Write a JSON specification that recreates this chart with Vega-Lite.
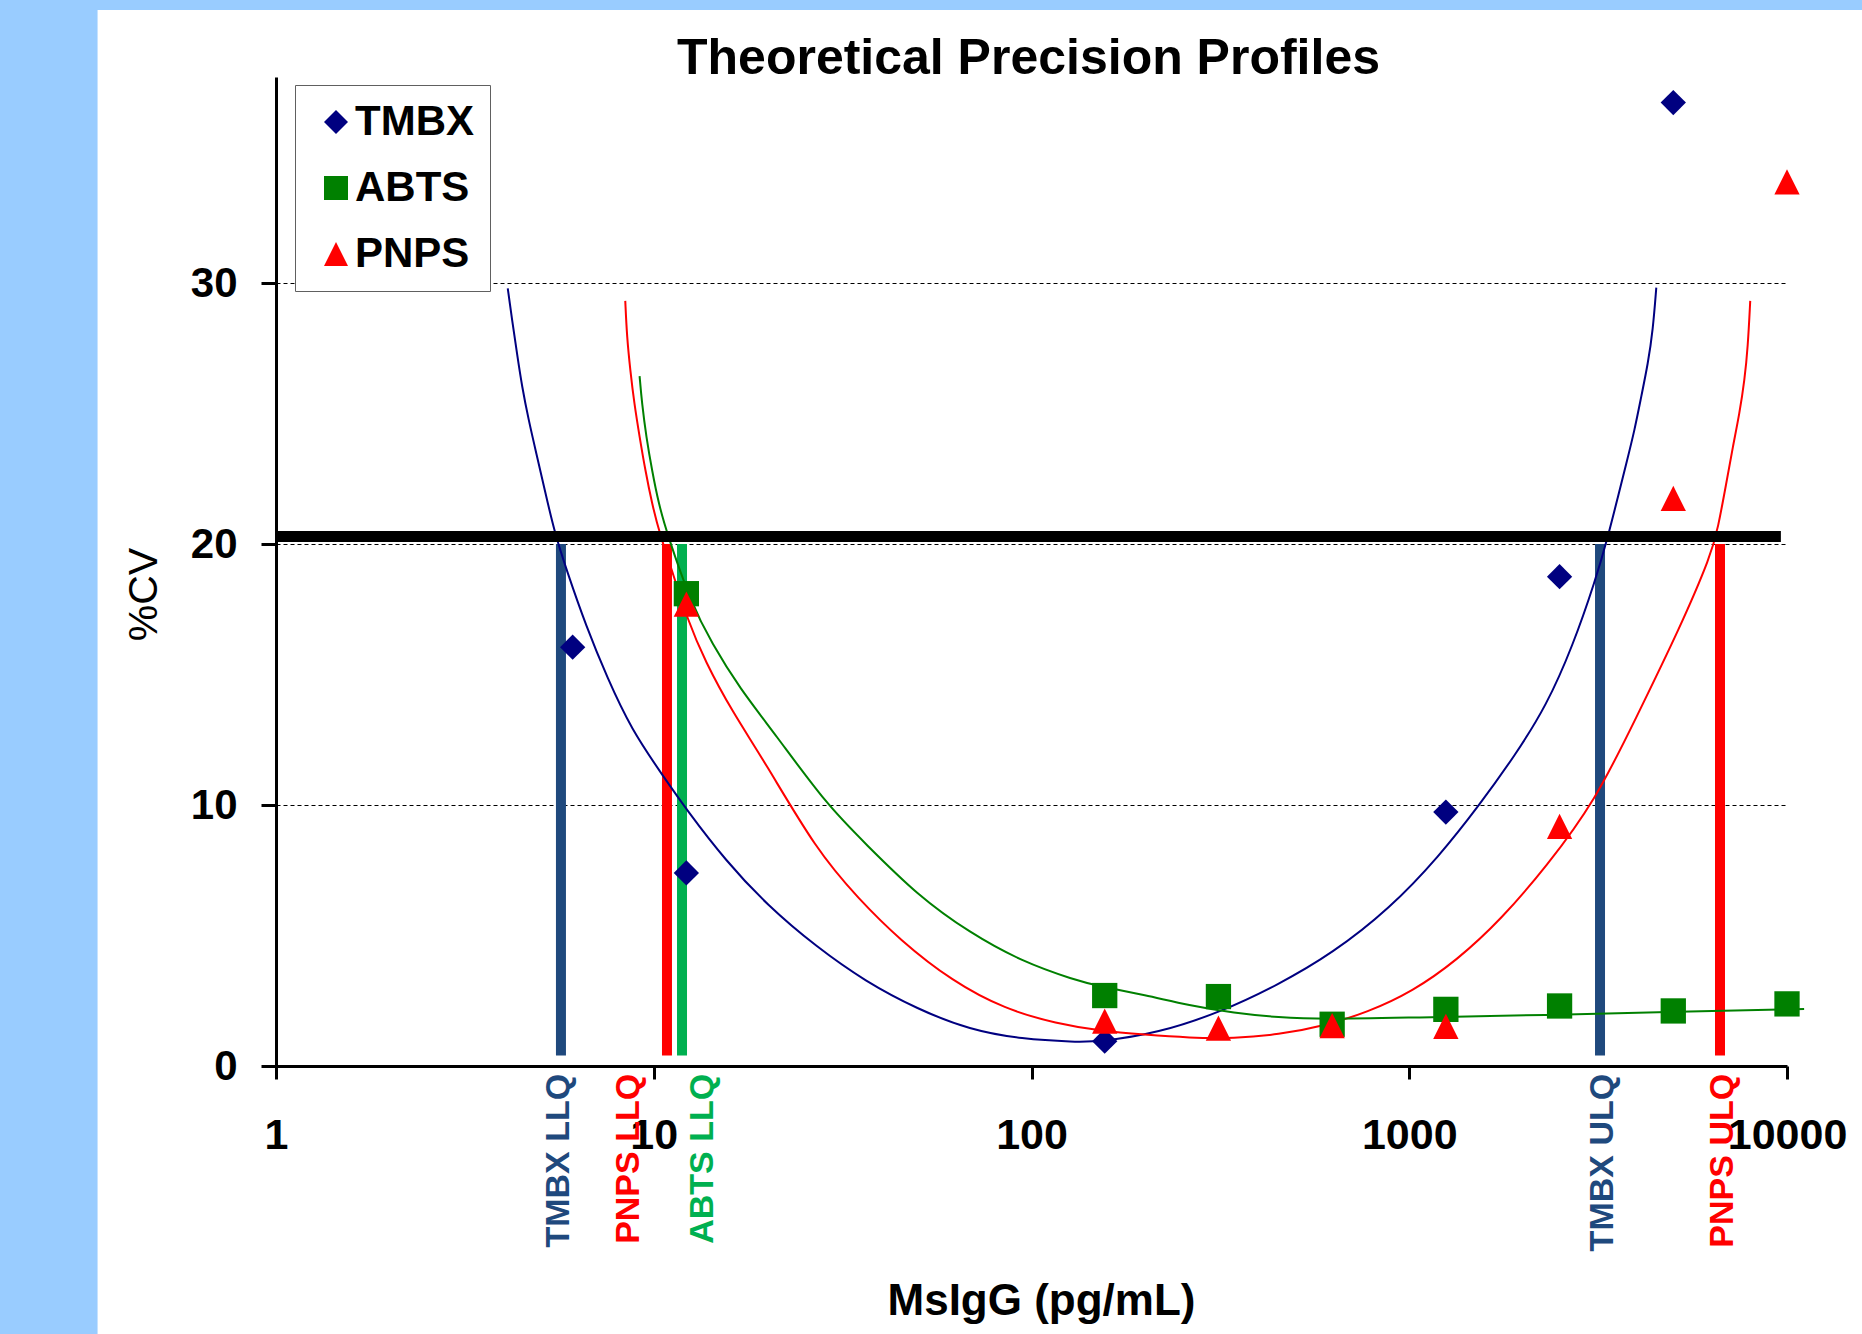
{
  "$schema": "https://vega.github.io/schema/vega-lite/v6.json",
  "width": 1511,
  "height": 989,
  "autosize": {"type": "none"},
  "padding": {"left": 276, "top": 77, "right": 75, "bottom": 268},
  "background": "white",
  "config": {"font": "Liberation Sans", "view": {"stroke": null}},
  "datasets": {
    "points": [
      {"series": "TMBX", "x": 6.1, "y": 16.05},
      {"series": "TMBX", "x": 12.2, "y": 7.4},
      {"series": "TMBX", "x": 156.25, "y": 0.95},
      {"series": "TMBX", "x": 1250, "y": 9.73},
      {"series": "TMBX", "x": 2500, "y": 18.75},
      {"series": "TMBX", "x": 5000, "y": 36.92},
      {"series": "ABTS", "x": 12.2, "y": 18.1},
      {"series": "ABTS", "x": 156.25, "y": 2.7},
      {"series": "ABTS", "x": 312.5, "y": 2.66},
      {"series": "ABTS", "x": 625, "y": 1.6},
      {"series": "ABTS", "x": 1250, "y": 2.17},
      {"series": "ABTS", "x": 2500, "y": 2.3},
      {"series": "ABTS", "x": 5000, "y": 2.11},
      {"series": "ABTS", "x": 10000, "y": 2.38},
      {"series": "PNPS", "x": 12.2, "y": 17.7},
      {"series": "PNPS", "x": 156.25, "y": 1.72},
      {"series": "PNPS", "x": 312.5, "y": 1.45},
      {"series": "PNPS", "x": 625, "y": 1.55},
      {"series": "PNPS", "x": 1250, "y": 1.52},
      {"series": "PNPS", "x": 2500, "y": 9.18},
      {"series": "PNPS", "x": 5000, "y": 21.75},
      {"series": "PNPS", "x": 10000, "y": 33.88}
    ],
    "curves": [
      {"series": "TMBX", "x": 4.107, "y": 29.8},
      {"series": "TMBX", "x": 4.217, "y": 28.58},
      {"series": "TMBX", "x": 4.345, "y": 27.31},
      {"series": "TMBX", "x": 4.48, "y": 26.03},
      {"series": "TMBX", "x": 4.665, "y": 24.75},
      {"series": "TMBX", "x": 4.889, "y": 23.47},
      {"series": "TMBX", "x": 5.142, "y": 22.1},
      {"series": "TMBX", "x": 5.456, "y": 20.47},
      {"series": "TMBX", "x": 5.888, "y": 18.97},
      {"series": "TMBX", "x": 6.622, "y": 16.85},
      {"series": "TMBX", "x": 7.534, "y": 14.87},
      {"series": "TMBX", "x": 8.73, "y": 12.89},
      {"series": "TMBX", "x": 10.52, "y": 11.17},
      {"series": "TMBX", "x": 12.27, "y": 9.78},
      {"series": "TMBX", "x": 15.52, "y": 7.86},
      {"series": "TMBX", "x": 20.0, "y": 6.15},
      {"series": "TMBX", "x": 26.98, "y": 4.56},
      {"series": "TMBX", "x": 36.31, "y": 3.24},
      {"series": "TMBX", "x": 49.89, "y": 2.18},
      {"series": "TMBX", "x": 68.71, "y": 1.38},
      {"series": "TMBX", "x": 94.41, "y": 1.03},
      {"series": "TMBX", "x": 130.0, "y": 0.92},
      {"series": "TMBX", "x": 151.7, "y": 0.93},
      {"series": "TMBX", "x": 216.3, "y": 1.26},
      {"series": "TMBX", "x": 316.2, "y": 2.06},
      {"series": "TMBX", "x": 450.8, "y": 3.12},
      {"series": "TMBX", "x": 625.2, "y": 4.31},
      {"series": "TMBX", "x": 889.2, "y": 6.04},
      {"series": "TMBX", "x": 1199, "y": 8.03},
      {"series": "TMBX", "x": 1533, "y": 10.0},
      {"series": "TMBX", "x": 1905, "y": 11.9},
      {"series": "TMBX", "x": 2307, "y": 13.8},
      {"series": "TMBX", "x": 2710, "y": 16.1},
      {"series": "TMBX", "x": 3109, "y": 18.6},
      {"series": "TMBX", "x": 3357, "y": 20.28},
      {"series": "TMBX", "x": 3568, "y": 21.81},
      {"series": "TMBX", "x": 3755, "y": 23.09},
      {"series": "TMBX", "x": 3950, "y": 24.37},
      {"series": "TMBX", "x": 4111, "y": 25.64},
      {"series": "TMBX", "x": 4285, "y": 26.92},
      {"series": "TMBX", "x": 4416, "y": 28.2},
      {"series": "TMBX", "x": 4508, "y": 29.83},
      {"series": "PNPS", "x": 8.406, "y": 29.32},
      {"series": "PNPS", "x": 8.492, "y": 27.94},
      {"series": "PNPS", "x": 8.665, "y": 26.67},
      {"series": "PNPS", "x": 8.879, "y": 25.39},
      {"series": "PNPS", "x": 9.173, "y": 24.11},
      {"series": "PNPS", "x": 9.495, "y": 22.84},
      {"series": "PNPS", "x": 9.89, "y": 21.56},
      {"series": "PNPS", "x": 10.36, "y": 20.41},
      {"series": "PNPS", "x": 11.27, "y": 18.83},
      {"series": "PNPS", "x": 12.28, "y": 17.12},
      {"series": "PNPS", "x": 13.65, "y": 15.53},
      {"series": "PNPS", "x": 16.18, "y": 13.55},
      {"series": "PNPS", "x": 19.6, "y": 11.7},
      {"series": "PNPS", "x": 26.98, "y": 8.26},
      {"series": "PNPS", "x": 34.83, "y": 6.41},
      {"series": "PNPS", "x": 44.87, "y": 4.82},
      {"series": "PNPS", "x": 61.8, "y": 3.24},
      {"series": "PNPS", "x": 84.92, "y": 2.18},
      {"series": "PNPS", "x": 116.9, "y": 1.62},
      {"series": "PNPS", "x": 151.7, "y": 1.35},
      {"series": "PNPS", "x": 199.4, "y": 1.2},
      {"series": "PNPS", "x": 261.8, "y": 1.08},
      {"series": "PNPS", "x": 343.6, "y": 1.06},
      {"series": "PNPS", "x": 450.8, "y": 1.2},
      {"series": "PNPS", "x": 591.6, "y": 1.53},
      {"series": "PNPS", "x": 776.2, "y": 2.06},
      {"series": "PNPS", "x": 1019, "y": 2.85},
      {"series": "PNPS", "x": 1338, "y": 4.05},
      {"series": "PNPS", "x": 1757, "y": 5.64},
      {"series": "PNPS", "x": 2306, "y": 7.64},
      {"series": "PNPS", "x": 3109, "y": 10.16},
      {"series": "PNPS", "x": 3972, "y": 13.3},
      {"series": "PNPS", "x": 5212, "y": 16.8},
      {"series": "PNPS", "x": 6302, "y": 19.6},
      {"series": "PNPS", "x": 6561, "y": 20.6},
      {"series": "PNPS", "x": 6902, "y": 22.3},
      {"series": "PNPS", "x": 7188, "y": 23.73},
      {"series": "PNPS", "x": 7487, "y": 25.01},
      {"series": "PNPS", "x": 7720, "y": 26.28},
      {"series": "PNPS", "x": 7878, "y": 27.56},
      {"series": "PNPS", "x": 7992, "y": 29.32},
      {"series": "ABTS", "x": 9.173, "y": 26.44},
      {"series": "ABTS", "x": 9.307, "y": 25.39},
      {"series": "ABTS", "x": 9.554, "y": 24.11},
      {"series": "ABTS", "x": 9.89, "y": 22.84},
      {"series": "ABTS", "x": 10.3, "y": 21.56},
      {"series": "ABTS", "x": 10.84, "y": 20.41},
      {"series": "ABTS", "x": 12.53, "y": 17.78},
      {"series": "ABTS", "x": 14.25, "y": 16.19},
      {"series": "ABTS", "x": 16.89, "y": 14.47},
      {"series": "ABTS", "x": 20.88, "y": 12.75},
      {"series": "ABTS", "x": 28.74, "y": 10.0},
      {"series": "ABTS", "x": 36.31, "y": 8.53},
      {"series": "ABTS", "x": 49.89, "y": 6.54},
      {"series": "ABTS", "x": 68.71, "y": 5.1},
      {"series": "ABTS", "x": 94.41, "y": 4.0},
      {"series": "ABTS", "x": 130.0, "y": 3.3},
      {"series": "ABTS", "x": 151.7, "y": 3.05},
      {"series": "ABTS", "x": 199.5, "y": 2.72},
      {"series": "ABTS", "x": 261.8, "y": 2.32},
      {"series": "ABTS", "x": 343.6, "y": 2.03},
      {"series": "ABTS", "x": 450.8, "y": 1.86},
      {"series": "ABTS", "x": 591.6, "y": 1.79},
      {"series": "ABTS", "x": 1019, "y": 1.86},
      {"series": "ABTS", "x": 2307, "y": 1.95},
      {"series": "ABTS", "x": 5212, "y": 2.08},
      {"series": "ABTS", "x": 11100, "y": 2.18}
    ],
    "limits": [
      {"label": "TMBX LLQ", "assay": "TMBX", "x": 5.68, "lx": 5.61},
      {"label": "PNPS LLQ", "assay": "PNPS", "x": 10.84, "lx": 8.6},
      {"label": "ABTS LLQ", "assay": "ABTS", "x": 11.88, "lx": 13.5},
      {"label": "TMBX ULQ", "assay": "TMBX", "x": 3199, "lx": 3257},
      {"label": "PNPS ULQ", "assay": "PNPS", "x": 6647, "lx": 6770}
    ]
  },
  "layer": [
    {
      "data": {"values": [{}]},
      "mark": {"type": "rect", "color": "#99CCFF"},
      "encoding": {
        "x": {"datum": 0.01, "type": "quantitative", "scale": {"type": "log", "domain": [1, 10000], "nice": false}, "axis": null},
        "x2": {"datum": 0.337},
        "y": {"datum": -20, "type": "quantitative", "scale": {"domain": [0, 37.9], "nice": false}, "axis": null},
        "y2": {"datum": 60}
      }
    },
    {
      "data": {"values": [{}]},
      "mark": {"type": "rect", "color": "#99CCFF"},
      "encoding": {
        "x": {
          "datum": 0.01,
          "type": "quantitative",
          "scale": {"type": "log", "domain": [1, 10000], "nice": false},
          "axis": {
            "orient": "top",
            "domain": false,
            "ticks": false,
            "labels": false,
            "grid": false,
            "title": "Theoretical Precision Profiles",
            "titleFont": "Liberation Sans",
            "titleFontSize": 50,
            "titleFontWeight": "bold",
            "titleColor": "black",
            "titleX": 752,
            "titleY": -4,
            "titleBaseline": "alphabetic",
            "titleAlign": "center",
            "titleAngle": 0
          }
        },
        "x2": {"datum": 100000},
        "y": {"datum": 40.47, "type": "quantitative", "scale": {"domain": [0, 37.9], "nice": false}, "axis": null},
        "y2": {"datum": 80}
      }
    },
    {
      "data": {"name": "limits"},
      "mark": {"type": "rule", "strokeWidth": 10, "strokeCap": "butt"},
      "encoding": {
        "x": {"field": "x", "type": "quantitative", "scale": {"type": "log", "domain": [1, 10000], "nice": false}, "axis": null},
        "y": {"datum": 0.4, "type": "quantitative", "scale": {"domain": [0, 37.9], "nice": false}, "axis": null},
        "y2": {"datum": 20},
        "stroke": {
          "field": "assay",
          "type": "nominal",
          "scale": {"domain": ["TMBX", "ABTS", "PNPS"], "range": ["#1F497D", "#00B050", "#FF0000"]},
          "legend": null
        }
      }
    },
    {
      "data": {"name": "curves"},
      "mark": {"type": "line", "strokeWidth": 2, "interpolate": "basis"},
      "encoding": {
        "x": {"field": "x", "type": "quantitative", "scale": {"type": "log", "domain": [1, 10000], "nice": false}, "axis": null},
        "y": {"field": "y", "type": "quantitative", "scale": {"domain": [0, 37.9], "nice": false}, "axis": null},
        "color": {
          "field": "series",
          "type": "nominal",
          "scale": {"domain": ["TMBX", "ABTS", "PNPS"], "range": ["#000080", "#008000", "#FF0000"]},
          "legend": null
        }
      }
    },
    {
      "data": {"values": [{}]},
      "mark": {"type": "rule", "strokeWidth": 11, "color": "black", "strokeCap": "butt"},
      "encoding": {
        "x": {"datum": 1, "type": "quantitative", "scale": {"type": "log", "domain": [1, 10000], "nice": false}, "axis": null},
        "x2": {"datum": 9634},
        "y": {"datum": 20.29, "type": "quantitative", "scale": {"domain": [0, 37.9], "nice": false}, "axis": null}
      }
    },
    {
      "data": {"name": "points"},
      "mark": {"type": "point", "filled": true, "opacity": 1, "size": 640},
      "encoding": {
        "x": {
          "field": "x",
          "type": "quantitative",
          "scale": {"type": "log", "domain": [1, 10000], "nice": false},
          "axis": {
            "orient": "bottom",
            "values": [1, 10, 100, 1000, 10000],
            "labelExpr": "format(datum.value, 'd')",
            "title": "MsIgG (pg/mL)",
            "titleFont": "Liberation Sans",
            "titleFontSize": 44,
            "titleFontWeight": "bold",
            "titleColor": "black",
            "titleX": 765,
            "titleY": 248,
            "titleBaseline": "alphabetic",
            "titleAlign": "center",
            "labelFont": "Liberation Sans",
            "labelFontSize": 43,
            "labelFontWeight": "bold",
            "labelColor": "black",
            "labelPadding": 35,
            "labelFlush": false,
            "labelOverlap": false,
            "tickSize": 13,
            "tickWidth": 3,
            "tickColor": "black",
            "domainColor": "black",
            "domainWidth": 3,
            "grid": false
          }
        },
        "y": {
          "field": "y",
          "type": "quantitative",
          "scale": {"domain": [0, 37.9], "nice": false},
          "axis": {
            "orient": "left",
            "values": [0, 10, 20, 30],
            "title": "%CV",
            "titleFont": "Liberation Sans",
            "titleFontSize": 41,
            "titleFontWeight": "normal",
            "titleColor": "black",
            "titleX": -120,
            "titleY": 517,
            "titleAngle": -90,
            "titleBaseline": "alphabetic",
            "titleAlign": "center",
            "labelFont": "Liberation Sans",
            "labelFontSize": 42,
            "labelFontWeight": "bold",
            "labelColor": "black",
            "labelPadding": 24,
            "tickSize": 15,
            "tickWidth": 3,
            "tickColor": "black",
            "domainColor": "black",
            "domainWidth": 3,
            "grid": true,
            "gridColor": "black",
            "gridDash": [4, 3],
            "gridWidth": 1,
            "gridOpacity": 1
          }
        },
        "color": {
          "field": "series",
          "type": "nominal",
          "scale": {"domain": ["TMBX", "ABTS", "PNPS"], "range": ["#000080", "#008000", "#FF0000"]},
          "legend": {
            "orient": "none",
            "legendX": 19,
            "legendY": 8,
            "title": null,
            "strokeColor": "#606060",
            "fillColor": "white",
            "padding": 16,
            "symbolSize": 576,
            "symbolOffset": 4,
            "symbolStrokeWidth": 0,
            "labelFont": "Liberation Sans",
            "labelFontSize": 42,
            "labelFontWeight": "bold",
            "labelColor": "black",
            "labelOffset": -2,
            "rowPadding": 24
          }
        },
        "shape": {
          "field": "series",
          "type": "nominal",
          "scale": {"domain": ["TMBX", "ABTS", "PNPS"], "range": ["diamond", "square", "M0,-1L1,1L-1,1Z"]}
        }
      }
    },
    {
      "data": {"name": "limits"},
      "mark": {"type": "text", "angle": 270, "align": "right", "baseline": "middle", "fontSize": 34, "fontWeight": "bold", "font": "Liberation Sans"},
      "encoding": {
        "x": {"field": "lx", "type": "quantitative", "scale": {"type": "log", "domain": [1, 10000], "nice": false}, "axis": null},
        "y": {"datum": -0.3, "type": "quantitative", "scale": {"domain": [0, 37.9], "nice": false}, "axis": null},
        "text": {"field": "label"},
        "fill": {
          "field": "assay",
          "type": "nominal",
          "scale": {"domain": ["TMBX", "ABTS", "PNPS"], "range": ["#1F497D", "#00B050", "#FF0000"]},
          "legend": null
        }
      }
    }
  ],
  "resolve": {
    "axis": {"x": "independent", "y": "independent"},
    "legend": {"color": "independent", "shape": "independent"}
  }
}
